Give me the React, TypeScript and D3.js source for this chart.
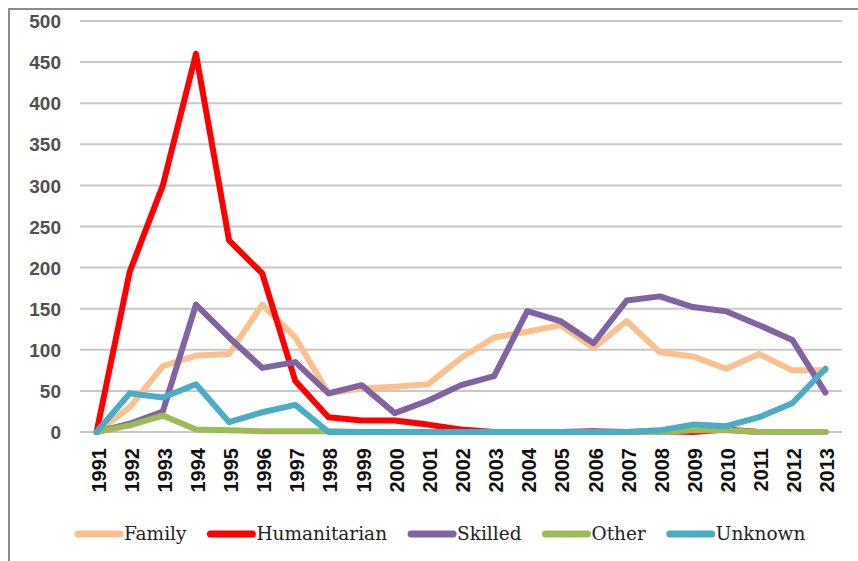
import React, { useEffect, useRef } from "react";
import * as d3 from "d3";

const years = [
  "1991", "1992", "1993", "1994", "1995", "1996", "1997", "1998", "1999", "2000", "2001", "2002",
  "2003", "2004", "2005", "2006", "2007", "2008", "2009", "2010", "2011", "2012", "2013",
];

const family = [0, 30, 80, 93, 95, 155, 115, 47, 53, 55, 58, 90, 115, 122, 130, 102, 135, 97, 92, 77, 95, 75, 75];
const humanitarian = [0, 195, 300, 460, 233, 193, 62, 18, 14, 14, 9, 3, 0, 0, 0, 1, 0, 1, 0, 3, 0, 0, 0];
const skilled = [0, 10, 25, 155, 115, 78, 85, 47, 57, 23, 38, 57, 68, 147, 135, 108, 160, 165, 152, 147, 130, 112, 48];
const other = [0, 8, 20, 3, 2, 1, 1, 1, 0, 0, 0, 0, 0, 0, 0, 0, 0, 0, 2, 2, 0, 0, 0];
const unknown = [0, 47, 42, 58, 12, 24, 33, 0, 0, 0, 0, 0, 0, 0, 0, 0, 0, 2, 9, 7, 18, 35, 77];

const seriesNames = ["Family", "Humanitarian", "Skilled", "Other", "Unknown"];
const seriesColors = ["#FAC08F", "#FF0000", "#8064A2", "#9BBB59", "#4BACC6"];
const yTicks = [0, 50, 100, 150, 200, 250, 300, 350, 400, 450, 500];

const Chart = () => {
  const ref = useRef<SVGSVGElement | null>(null);

  useEffect(() => {
    if (!ref.current) return;
    const svg = d3.select(ref.current);
    svg.selectAll("*").remove();

    const width = 858;
    const height = 561;
    const plot = { left: 80, right: 842, top: 21, bottom: 432 };
    const allSeries = [family, humanitarian, skilled, other, unknown];

    // outer frame (top + left only visible)
    svg
      .append("rect")
      .attr("x", 9)
      .attr("y", 9)
      .attr("width", width)
      .attr("height", height)
      .attr("fill", "white")
      .attr("stroke", "#8c8c8c")
      .attr("stroke-width", 2);

    const x = d3.scaleBand().domain(years).range([plot.left, plot.right]);
    const y = d3.scaleLinear().domain([0, 500]).range([plot.bottom, plot.top]);

    // grid
    svg
      .append("g")
      .selectAll("line")
      .data(yTicks)
      .enter()
      .append("line")
      .attr("x1", plot.left)
      .attr("x2", plot.right)
      .attr("y1", (d) => y(d))
      .attr("y2", (d) => y(d))
      .attr("stroke", "#c8c8c8")
      .attr("stroke-width", 2);

    // y axis labels
    const yAxis = svg
      .append("g")
      .attr("transform", `translate(${plot.left - 19},0)`)
      .call(d3.axisLeft(y).tickValues(yTicks).tickSize(0).tickPadding(0))
      .call((g) => g.select(".domain").remove());
    yAxis
      .selectAll("text")
      .attr("font-family", "'Liberation Sans', Arial, sans-serif")
      .attr("font-size", 19)
      .attr("font-weight", "bold")
      .attr("fill", "#505050")
      .attr("dy", "0.35em");

    // x axis labels (rotated)
    const xAxis = svg
      .append("g")
      .attr("transform", `translate(2,${plot.bottom + 16})`)
      .call(d3.axisBottom(x).tickSize(0).tickPadding(0))
      .call((g) => g.select(".domain").remove());
    xAxis
      .selectAll("text")
      .attr("font-family", "'Liberation Sans', Arial, sans-serif")
      .attr("font-size", 20)
      .attr("font-weight", "bold")
      .attr("fill", "#111")
      .attr("transform", "rotate(-90)")
      .attr("text-anchor", "end")
      .attr("x", 0)
      .attr("y", 0)
      .attr("dy", "0.35em");

    // lines
    const line = d3
      .line<number>()
      .x((_, i) => x(years[i])! + x.bandwidth() / 2)
      .y((d) => y(d));

    svg
      .append("g")
      .selectAll("path")
      .data(allSeries)
      .enter()
      .append("path")
      .attr("d", (d) => line(d))
      .attr("fill", "none")
      .attr("stroke", (_, i) => seriesColors[i])
      .attr("stroke-width", 6)
      .attr("stroke-linejoin", "round")
      .attr("stroke-linecap", "round");

    // legend
    const legend = svg.append("g").attr("transform", "translate(78,534)");
    let cursor = 0;
    seriesNames.forEach((name, i) => {
      const item = legend.append("g").attr("transform", `translate(${cursor},0)`);
      item
        .append("line")
        .attr("x1", 0)
        .attr("x2", 42)
        .attr("stroke", seriesColors[i])
        .attr("stroke-width", 7)
        .attr("stroke-linecap", "round");
      const t = item
        .append("text")
        .attr("x", 46)
        .attr("dy", "0.35em")
        .attr("font-family", "'DejaVu Serif', serif")
        .attr("font-size", 18.5)
        .attr("fill", "#222")
        .text(name);
      const w = (t.node() as SVGTextElement).getComputedTextLength();
      cursor += 46 + w + 24;
    });
  }, []);

  return (
    <svg
      ref={ref}
      width={858}
      height={561}
      style={{ position: "absolute", left: 0, top: 0, background: "white" }}
    />
  );
};

export default function App() {
  return <Chart />;
}
